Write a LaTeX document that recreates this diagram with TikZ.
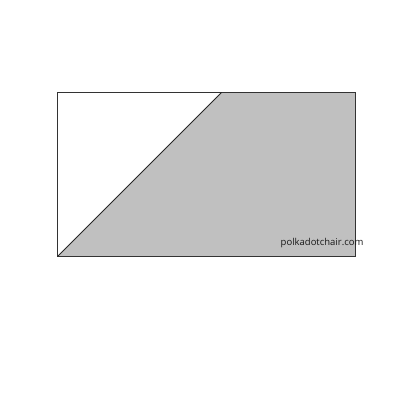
\documentclass[tikz,border=0pt]{standalone}
\usepackage{fontspec}
\setsansfont{Open Sans}
\usepackage{xcolor}
\definecolor{patchgray}{HTML}{C0C0C0}

\begin{document}
\begin{tikzpicture}[x=1pt,y=1pt]
  \useasboundingbox (0,0) rectangle (400,400);
  \coordinate (bl) at (57.5,143.5);
  \coordinate (br) at (355,143.5);
  \coordinate (tr) at (355,307.7);
  \coordinate (tl) at (57.5,307.7);
  \coordinate (cut) at (221.7,307.7);
  \fill[patchgray] (bl) -- (cut) -- (tr) -- (br) -- cycle;
  \draw[line width=0.8pt,black!80] (bl) rectangle (tr);
  \draw[line width=0.8pt,black!85] (bl) -- (cut);
  \node[font=\sffamily\fontsize{9.5}{11}\selectfont,text=black!90,anchor=base west,inner sep=0pt] (mark) at (280.5,154.5) {polkadotchair.com};
\end{tikzpicture}
\end{document}
